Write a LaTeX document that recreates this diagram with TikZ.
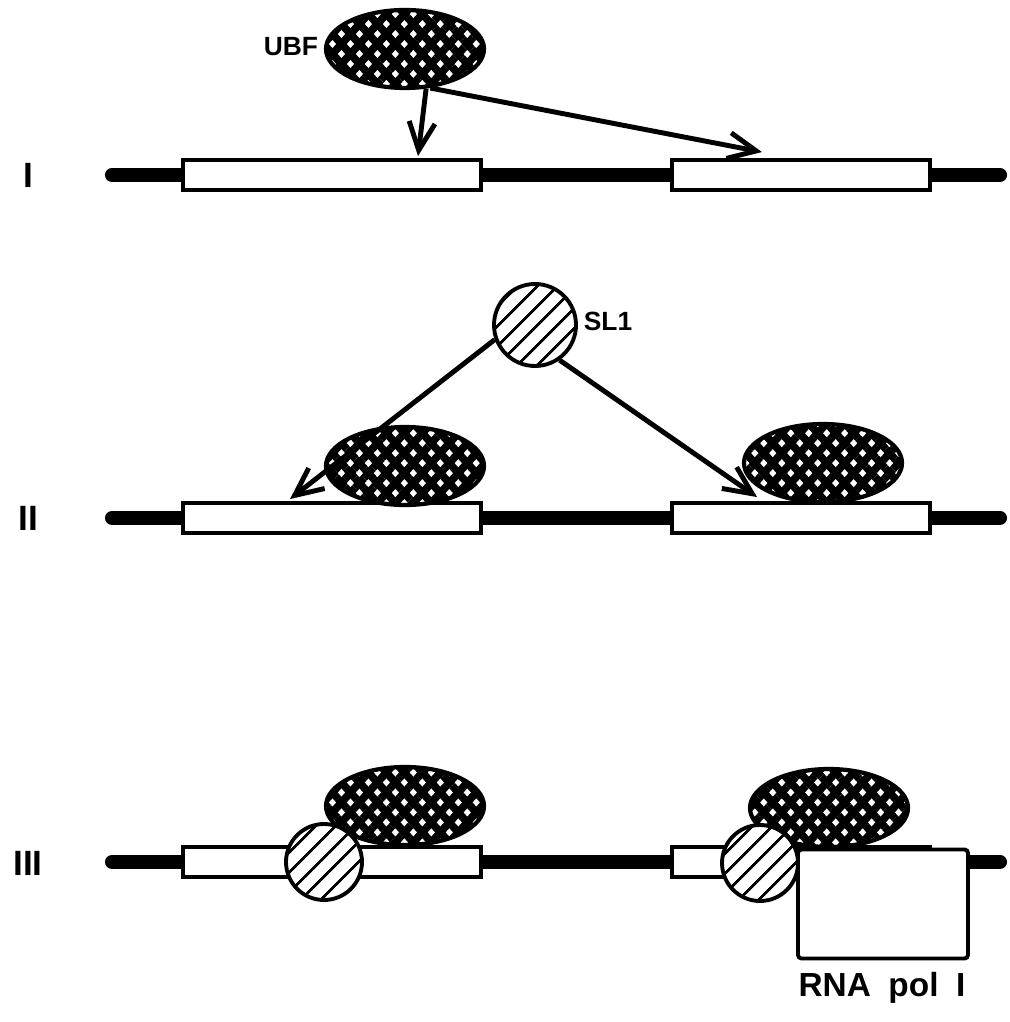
\documentclass[tikz,border=0pt]{standalone}
\usepackage{fontspec}
\setmainfont{Liberation Sans}
\newfontfamily\polfont[WordSpace=1.9]{Liberation Sans}
\usetikzlibrary{arrows.meta, patterns.meta, shapes.geometric}

\begin{document}
\begin{tikzpicture}[x=0.1mm, y=-0.1mm]
  \tikzset{
    dna/.style={line width=4pt, line cap=round},
    gene/.style={rectangle, draw, fill=white, line width=1.1pt, minimum height=3.0mm, inner sep=0pt},
    ubf/.style={ellipse, draw, line width=1.2pt, minimum width=15.8mm, minimum height=7.8mm, inner sep=0pt,
      preaction={fill=white},
      preaction={pattern={Lines[angle=48, distance=3.8pt, line width=2.2pt]}},
      preaction={pattern={Lines[angle=-48, distance=3.8pt, line width=2.2pt]}}},
    sl/.style={circle, draw, line width=1.1pt, minimum size=7.6mm, inner sep=0pt,
      preaction={fill=white},
      preaction={pattern={Lines[angle=45, distance=4pt, line width=0.8pt]}}},
    pol/.style={rectangle, rounded corners=1pt, draw, fill=white, line width=1.1pt, minimum width=17mm, minimum height=10.9mm},
    bind/.style={line width=1.4pt, -{Straight Barb[length=2.8mm, width=2.6mm, line width=1.4pt]}},
    factor/.style={font=\bfseries\fontsize{7.5}{9}\selectfont},
    rowlabel/.style={font=\bfseries\fontsize{10}{12}\selectfont}
  }
  \useasboundingbox (0,0) rectangle (1009,1022);

  % DNA with the two genes, one strand per row
  \foreach \r/\y in {1/175, 2/518, 3/862} {
    \coordinate (l\r) at (112,\y);
    \coordinate (r\r) at (1000,\y);
    \draw[dna] (l\r) -- (r\r);
    \node[gene, minimum width=29.8mm] (a\r) at (332,\y) {};
    \node[gene, minimum width=25.8mm] (b\r) at (801,\y) {};
  }
  \node[rowlabel] (n1) at (28,175) {I};
  \node[rowlabel] (n2) at (28,518) {II};
  \node[rowlabel] (n3) at (28,863) {III};

  % I
  \node[ubf] (ubf) at (405,49) {};
  \node[factor] (ubflabel) at (291,47) {UBF};
  \draw[bind] (ubf.-62) -- ([xshift=8.6mm, yshift=0.2mm]a1.north);
  \draw[bind] (ubf.-57) -- ([xshift=-3.9mm, yshift=0.6mm]b1.north);

  % II
  \node[sl, minimum size=8.2mm] (sl) at (535,325) {};
  \node[factor] (sllabel) at (608,321) {SL1};
  \node[ubf] (ubf2a) at (405,466) {};
  \node[ubf] (ubf2b) at (823,463) {};
  \draw[bind] (sl.200) -- ([xshift=-4.2mm, yshift=0.2mm]a2.north);
  \draw[bind] (sl.-55) -- ([xshift=-4.4mm, yshift=0.4mm]b2.north);

  % III
  \node[ubf] (ubf3a) at (405,806) {};
  \node[ubf] (ubf3b) at (829,808) {};
  \node[sl] (sl3a) at (324,862) {};
  \node[sl] (sl3b) at (760,863) {};
  \node[pol] (pol) at (883,904) {};
  \node[font=\polfont\bfseries\fontsize{9.5}{11}\selectfont] (pollabel) at (882,988) {RNA pol I};
\end{tikzpicture}
\end{document}
